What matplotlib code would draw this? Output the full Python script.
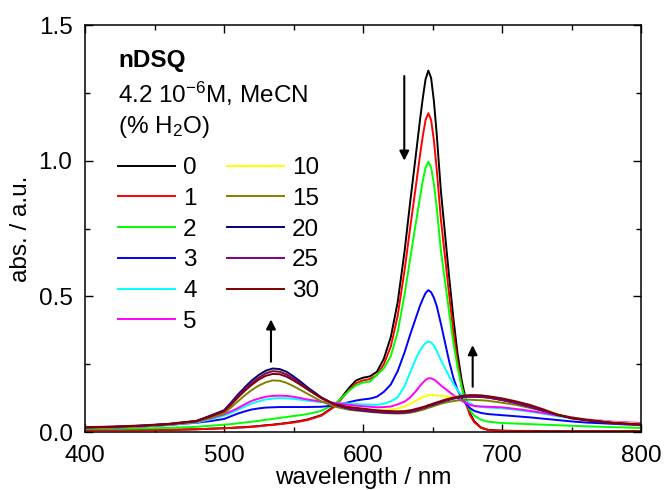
import matplotlib
matplotlib.use("Agg")
import matplotlib.pyplot as plt
from matplotlib.ticker import MultipleLocator

plt.rcParams["font.family"] = ["Liberation Sans", "DejaVu Sans"]
plt.rcParams["mathtext.fontset"] = "custom"
plt.rcParams["mathtext.rm"] = "Liberation Sans"
plt.rcParams["mathtext.it"] = "Liberation Sans:italic"
plt.rcParams["mathtext.bf"] = "Liberation Sans:bold"

FS = 17.5

# wavelength grid (nm)
wavelength = [400, 420, 440, 460, 480, 490, 500, 505, 510, 515, 520, 525, 530, 535, 540, 545,
              550, 555, 560, 570, 580, 590, 595, 600, 605, 610, 615, 620, 625, 630, 634, 638,
              641, 643, 645, 647, 649, 651, 653, 656, 659, 662, 665, 668, 671, 674, 677, 680,
              685, 690, 700, 710, 720, 730, 740, 750, 760, 780, 800]

# water content (% H2O) of each spectrum
water = ["0", "1", "2", "3", "4", "5", "10", "15", "20", "25", "30"]
colors = ["#000000", "#FF0000", "#00FF00", "#0000FF", "#00FFFF", "#FF00FF",
          "#FFFF00", "#808000", "#000080", "#800080", "#800000"]

abs_0 = [0.008, 0.007, 0.007, 0.008, 0.010, 0.012, 0.014, 0.015, 0.017, 0.018, 0.020, 0.022, 0.025, 0.027, 0.030, 0.033,
         0.037, 0.041, 0.046, 0.062, 0.097, 0.163, 0.190, 0.200, 0.205, 0.222, 0.270, 0.350, 0.480, 0.670, 0.850, 1.020,
         1.150, 1.230, 1.300, 1.332, 1.305, 1.220, 1.100, 0.890, 0.730, 0.570, 0.420, 0.290, 0.190, 0.118, 0.068, 0.040,
         0.016, 0.008, 0.005, 0.004, 0.004, 0.003, 0.003, 0.003, 0.003, 0.003, 0.003]
abs_1 = [0.008, 0.007, 0.007, 0.008, 0.010, 0.012, 0.014, 0.015, 0.016, 0.017, 0.019, 0.021, 0.024, 0.026, 0.029, 0.032,
         0.035, 0.039, 0.044, 0.060, 0.095, 0.155, 0.180, 0.190, 0.195, 0.210, 0.250, 0.315, 0.430, 0.600, 0.755, 0.905,
         1.020, 1.090, 1.150, 1.175, 1.150, 1.075, 0.970, 0.785, 0.645, 0.505, 0.370, 0.260, 0.170, 0.105, 0.062, 0.036,
         0.015, 0.007, 0.004, 0.003, 0.003, 0.002, 0.002, 0.002, 0.002, 0.002, 0.002]
abs_2 = [0.012, 0.012, 0.013, 0.015, 0.019, 0.023, 0.027, 0.029, 0.032, 0.035, 0.038, 0.041, 0.045, 0.048, 0.052, 0.055,
         0.059, 0.062, 0.066, 0.078, 0.104, 0.152, 0.172, 0.182, 0.186, 0.210, 0.235, 0.280, 0.370, 0.510, 0.640, 0.770,
         0.865, 0.925, 0.975, 0.996, 0.975, 0.915, 0.830, 0.670, 0.555, 0.440, 0.330, 0.240, 0.165, 0.110, 0.080, 0.060,
         0.045, 0.038, 0.033, 0.031, 0.029, 0.027, 0.025, 0.023, 0.021, 0.018, 0.015]
abs_3 = [0.014, 0.016, 0.020, 0.026, 0.034, 0.040, 0.048, 0.058, 0.068, 0.076, 0.083, 0.087, 0.090, 0.091, 0.092, 0.092,
         0.092, 0.092, 0.092, 0.093, 0.098, 0.110, 0.116, 0.120, 0.123, 0.130, 0.148, 0.175, 0.225, 0.295, 0.360, 0.420,
         0.465, 0.490, 0.512, 0.523, 0.515, 0.495, 0.465, 0.400, 0.330, 0.260, 0.200, 0.155, 0.125, 0.104, 0.088, 0.078,
         0.070, 0.066, 0.062, 0.058, 0.054, 0.049, 0.044, 0.039, 0.035, 0.030, 0.025]
abs_4 = [0.014, 0.016, 0.019, 0.025, 0.035, 0.046, 0.060, 0.070, 0.082, 0.094, 0.105, 0.113, 0.120, 0.123, 0.125, 0.124,
         0.122, 0.119, 0.115, 0.110, 0.107, 0.105, 0.103, 0.102, 0.101, 0.100, 0.104, 0.113, 0.128, 0.170, 0.220, 0.270,
         0.300, 0.316, 0.328, 0.333, 0.330, 0.318, 0.300, 0.265, 0.235, 0.205, 0.178, 0.155, 0.135, 0.118, 0.105, 0.097,
         0.092, 0.090, 0.087, 0.082, 0.075, 0.067, 0.058, 0.051, 0.045, 0.036, 0.030]
abs_5 = [0.015, 0.017, 0.020, 0.026, 0.037, 0.050, 0.065, 0.076, 0.088, 0.102, 0.115, 0.123, 0.130, 0.133, 0.134, 0.133,
         0.130, 0.125, 0.120, 0.112, 0.107, 0.100, 0.097, 0.095, 0.093, 0.091, 0.092, 0.094, 0.102, 0.112, 0.128, 0.150,
         0.170, 0.181, 0.192, 0.198, 0.198, 0.193, 0.186, 0.172, 0.160, 0.148, 0.136, 0.125, 0.115, 0.107, 0.100, 0.096,
         0.094, 0.093, 0.091, 0.085, 0.078, 0.070, 0.061, 0.054, 0.047, 0.038, 0.033]
abs_10 = [0.016, 0.018, 0.022, 0.028, 0.039, 0.058, 0.078, 0.104, 0.133, 0.159, 0.183, 0.203, 0.219, 0.227, 0.225, 0.215,
          0.199, 0.180, 0.160, 0.125, 0.100, 0.088, 0.085, 0.082, 0.081, 0.080, 0.081, 0.083, 0.087, 0.094, 0.104, 0.115,
          0.124, 0.128, 0.132, 0.135, 0.136, 0.136, 0.135, 0.133, 0.131, 0.130, 0.130, 0.130, 0.130, 0.131, 0.131, 0.130,
          0.128, 0.126, 0.118, 0.108, 0.095, 0.080, 0.065, 0.054, 0.047, 0.036, 0.030]
abs_15 = [0.015, 0.017, 0.021, 0.027, 0.037, 0.052, 0.068, 0.090, 0.113, 0.135, 0.155, 0.171, 0.183, 0.190, 0.189, 0.181,
          0.169, 0.155, 0.141, 0.113, 0.093, 0.082, 0.079, 0.077, 0.074, 0.072, 0.070, 0.069, 0.068, 0.069, 0.071, 0.075,
          0.079, 0.082, 0.085, 0.089, 0.092, 0.096, 0.099, 0.104, 0.108, 0.111, 0.114, 0.116, 0.118, 0.119, 0.119, 0.118,
          0.117, 0.115, 0.108, 0.100, 0.089, 0.077, 0.064, 0.054, 0.046, 0.033, 0.025]
abs_20 = [0.017, 0.019, 0.023, 0.029, 0.040, 0.060, 0.080, 0.108, 0.138, 0.165, 0.190, 0.210, 0.226, 0.234, 0.232, 0.222,
          0.205, 0.186, 0.165, 0.128, 0.100, 0.086, 0.082, 0.079, 0.076, 0.074, 0.072, 0.071, 0.071, 0.072, 0.075, 0.080,
          0.085, 0.088, 0.091, 0.095, 0.098, 0.101, 0.105, 0.110, 0.115, 0.119, 0.123, 0.126, 0.128, 0.130, 0.130, 0.130,
          0.129, 0.127, 0.118, 0.107, 0.093, 0.078, 0.063, 0.052, 0.045, 0.034, 0.027]
abs_25 = [0.017, 0.019, 0.023, 0.029, 0.040, 0.058, 0.077, 0.103, 0.132, 0.158, 0.181, 0.200, 0.216, 0.224, 0.222, 0.212,
          0.197, 0.179, 0.160, 0.125, 0.100, 0.087, 0.083, 0.080, 0.077, 0.075, 0.073, 0.072, 0.072, 0.073, 0.076, 0.080,
          0.085, 0.088, 0.092, 0.096, 0.099, 0.103, 0.106, 0.111, 0.116, 0.120, 0.124, 0.127, 0.129, 0.130, 0.131, 0.131,
          0.130, 0.127, 0.118, 0.107, 0.094, 0.078, 0.063, 0.052, 0.045, 0.033, 0.026]
abs_30 = [0.018, 0.020, 0.024, 0.030, 0.041, 0.057, 0.076, 0.100, 0.127, 0.152, 0.174, 0.193, 0.207, 0.214, 0.213, 0.204,
          0.190, 0.174, 0.157, 0.125, 0.102, 0.092, 0.089, 0.086, 0.083, 0.080, 0.078, 0.077, 0.076, 0.077, 0.080, 0.085,
          0.089, 0.092, 0.095, 0.099, 0.102, 0.106, 0.109, 0.114, 0.119, 0.123, 0.127, 0.130, 0.133, 0.135, 0.136, 0.136,
          0.135, 0.132, 0.124, 0.113, 0.100, 0.083, 0.064, 0.050, 0.043, 0.033, 0.028]

spectra = [abs_0, abs_1, abs_2, abs_3, abs_4, abs_5, abs_10, abs_15, abs_20, abs_25, abs_30]

fig = plt.figure(figsize=(6.64, 4.90), dpi=100)
ax = fig.add_axes([85 / 664, 58 / 490, 556 / 664, 407 / 490])

for label, col, values in zip(water, colors, spectra):
    ax.plot(wavelength, values, color=col, lw=1.4, label=label)

ax.set_xlim(400, 800)
ax.set_ylim(0, 1.5)
ax.xaxis.set_major_locator(MultipleLocator(100))
ax.xaxis.set_minor_locator(MultipleLocator(50))
ax.yaxis.set_major_locator(MultipleLocator(0.5))
ax.yaxis.set_minor_locator(MultipleLocator(0.25))
ax.yaxis.set_major_formatter(plt.FuncFormatter(lambda v, p: f"{v:.1f}"))
ax.tick_params(which="both", direction="in", top=True, right=True, width=1.0,
               labelsize=FS)
ax.tick_params(which="major", length=6)
ax.tick_params(which="minor", length=3.5)
ax.tick_params(axis="x", pad=9)
ax.tick_params(axis="y", pad=9)
for sp in ax.spines.values():
    sp.set_linewidth(1.1)

ax.set_xlabel("wavelength / nm", fontsize=FS, labelpad=0.5)
ax.set_ylabel("abs. / a.u.", fontsize=FS, labelpad=5)

# arrows marking the spectral changes with increasing water content
arrow = dict(arrowstyle="-|>", lw=1.5, color="black", mutation_scale=14,
             shrinkA=0, shrinkB=0)
ax.annotate("", xy=(629.7, 1.0), xytext=(629.7, 1.312), arrowprops=arrow)
ax.annotate("", xy=(533.8, 0.415), xytext=(533.8, 0.259), arrowprops=arrow)
ax.annotate("", xy=(678.9, 0.32), xytext=(678.9, 0.167), arrowprops=arrow)

fig.text(118 / 664, 1 - 66.7 / 490, "nDSQ", fontsize=FS, fontweight="bold",
         va="baseline", ha="left")
fig.text(118 / 664, 1 - 103.3 / 490, r"4.2 10$^{-6}$M, MeCN", fontsize=FS,
         va="baseline", ha="left")
fig.text(118 / 664, 1 - 133 / 490, r"(% H$_2$O)", fontsize=FS,
         va="baseline", ha="left")

ax.legend(loc="upper left", bbox_to_anchor=(118 / 664, 1 - 157 / 490),
          bbox_transform=fig.transFigure, ncol=2, frameon=False, fontsize=FS,
          handlelength=2.35, handletextpad=0.33, columnspacing=1.23,
          labelspacing=0.36, borderpad=0, borderaxespad=0)

fig.savefig("out.png", dpi=100)
